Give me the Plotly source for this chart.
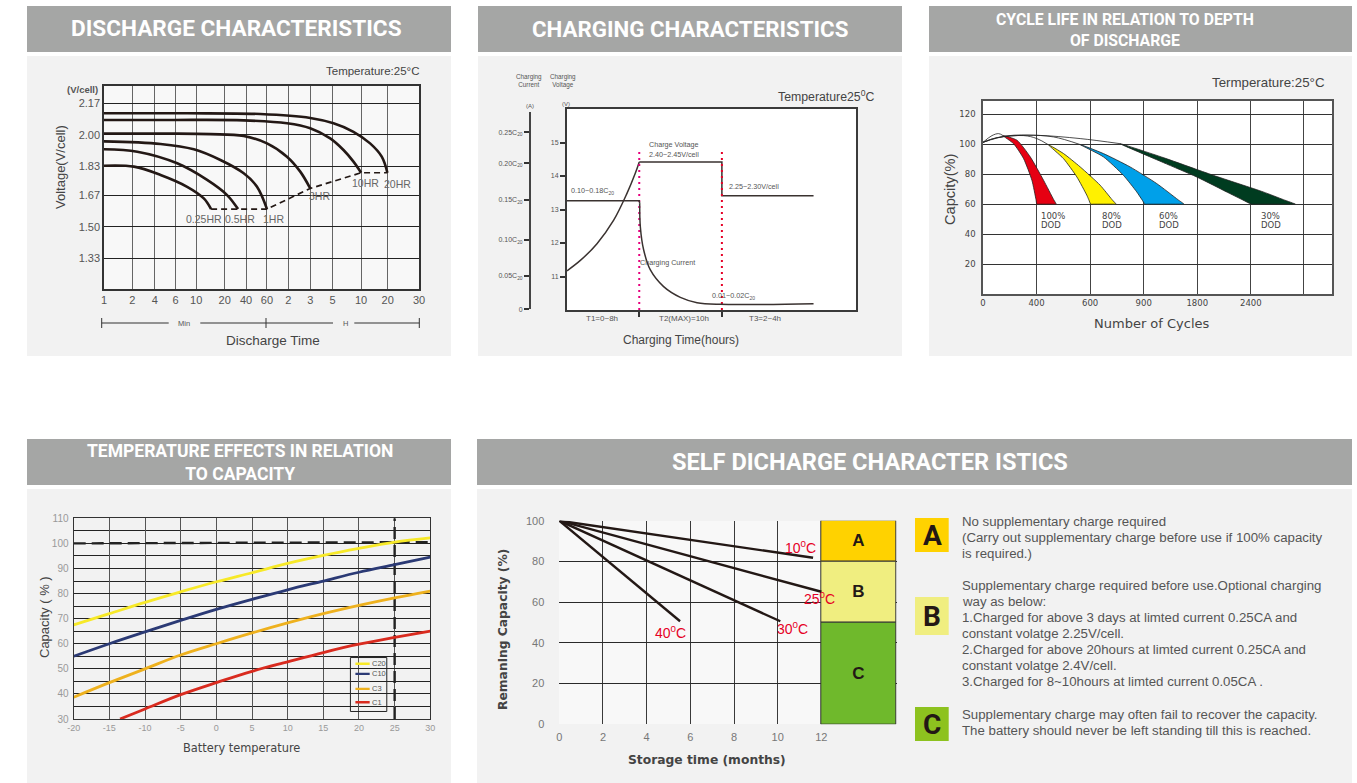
import plotly.graph_objects as go

W, H = 1357, 783
INK = "#231815"
TXT = "#555555"
SANS = "Liberation Sans, Arial, sans-serif"
WIDE = "DejaVu Sans, sans-serif"
HEAD = "Roboto, sans-serif"

# ---------- Discharge characteristics ----------
DIS_TICK_POS = [0, 85, 153, 215, 277, 363, 427, 490, 554, 620, 687, 773, 853, 947]
DIS_TICK_LABELS = ["1", "2", "4", "6", "10", "20", "40", "60", "2", "3", "5", "10", "20", "30"]
DIS_Y_TICKS = [2.17, 2.00, 1.83, 1.67, 1.50, 1.33]
DIS_20HR_X = [0, 250, 470, 620, 690, 750, 800, 835, 852]
DIS_20HR_Y = [2.116, 2.116, 2.112, 2.091, 2.062, 2.016, 1.953, 1.881, 1.794]
DIS_10HR_X = [0, 200, 420, 550, 620, 680, 720, 750, 773]
DIS_10HR_Y = [2.080, 2.080, 2.078, 2.062, 2.035, 1.980, 1.917, 1.854, 1.794]
DIS_3HR_X = [0, 200, 320, 420, 490, 550, 590, 620]
DIS_3HR_Y = [2.006, 2.006, 2.003, 1.993, 1.953, 1.881, 1.800, 1.709]
DIS_1HR_X = [0, 170, 270, 350, 420, 460, 490]
DIS_1HR_Y = [1.964, 1.950, 1.921, 1.863, 1.791, 1.718, 1.597]
DIS_05HR_X = [0, 100, 220, 310, 370, 403]
DIS_05HR_Y = [1.921, 1.908, 1.845, 1.755, 1.673, 1.597]
DIS_025HR_X = [0, 90, 170, 250, 300, 322]
DIS_025HR_Y = [1.832, 1.827, 1.782, 1.718, 1.655, 1.597]
DIS_END_X = [322, 403, 490, 620, 773, 852]
DIS_END_Y = [1.597, 1.597, 1.597, 1.709, 1.794, 1.794]
DIS_LABELS = ["0.25HR", "0.5HR", "1HR", "3HR", "10HR", "20HR"]
DIS_LABEL_X = [300, 408, 510, 648, 785, 882]
DIS_LABEL_Y = [1.543, 1.543, 1.543, 1.668, 1.737, 1.733]

# ---------- Charging characteristics ----------
CHG_HOURS_BOUNDS = [8, 17.15]
CHG_V_RISE_X = [0, 1.48, 3.32, 5.17, 6.64, 7.56, 8]
CHG_V_RISE_Y = [11.17, 11.48, 11.98, 12.68, 13.48, 14.08, 14.42]
CHG_V_HOLD_X = [8, 17.15, 17.15, 27.3]
CHG_V_HOLD_Y = [14.42, 14.42, 13.41, 13.41]
CHG_I_HOLD_X = [0, 8, 8.05]
CHG_I_HOLD_Y = [0.1532, 0.1532, 0.1494]
CHG_I_FALL_X = [8.05, 8.12, 8.49, 9.23, 10.7, 12.55, 14.4, 16.97, 27.3]
CHG_I_FALL_Y = [0.1494, 0.1165, 0.0836, 0.0555, 0.032, 0.0169, 0.0094, 0.007, 0.008]
CHG_V_TICKS = [11, 12, 13, 14, 15]
CHG_I_TICK_POS = [0, 0.0475, 0.0977, 0.1541, 0.2058, 0.25]
CHG_I_TICK_LABELS = ["0", "0.05C<sub>20</sub>", "0.10C<sub>20</sub>", "0.15C<sub>20</sub>", "0.20C<sub>20</sub>", "0.25C<sub>20</sub>"]
CHG_PHASES = ["T1=0~8h", "T2(MAX)=10h", "T3=2~4h"]
CHG_PHASE_X = [3.9, 12.9, 21.9]

# ---------- Cycle life ----------
CYC_TICK_POS = [0, 1, 2, 3, 4, 5, 5.975]
CYC_TICK_LABELS = ["0", "400", "600", "900", "1800", "2400", ""]
CYC_Y_TICKS = [20, 40, 60, 80, 100, 120]
RED_X = [0.373, 0.571, 0.758, 0.913, 0.99, 1.006, 1.05, 1.32, 1.366, 1.32, 1.13, 0.882, 0.634, 0.373]
RED_Y = [105.8, 100.4, 90.4, 76, 63, 60, 60, 60, 60, 63, 76, 91.6, 102.7, 105.8]
YEL_X = [1.224, 1.503, 1.752, 1.938, 1.975, 2.012, 2.06, 2.44, 2.484, 2.41, 2.186, 1.814, 1.503, 1.224]
YEL_Y = [99.6, 90.4, 78.2, 66, 63, 60, 60, 60, 60, 63, 72.7, 84.9, 93.8, 99.6]
BLU_X = [1.814, 2.248, 2.621, 2.87, 2.968, 3.025, 3.07, 3.71, 3.752, 3.64, 3.242, 2.745, 2.248, 1.814]
BLU_Y = [99.8, 91.6, 79.3, 68.2, 63, 60, 60, 60, 60, 63, 73.8, 84.9, 93.8, 99.8]
GRN_X = [2.559, 3.366, 3.988, 4.609, 4.84, 5.012, 5.06, 5.79, 5.832, 5.61, 5.23, 4.298, 3.366, 2.559]
GRN_Y = [100.4, 87.8, 78.2, 67.1, 63, 60, 60, 60, 60, 63, 68.2, 79.3, 91.1, 100.4]
ARC_100_X = [0, 0.168, 0.292, 0.373]
ARC_100_Y = [101.3, 105.8, 107.1, 105.8]
ARC_80_X = [0, 0.261, 0.758, 1.006, 1.224]
ARC_80_Y = [101.3, 104.4, 105.8, 103.8, 99.6]
ARC_60_X = [0, 0.261, 0.82, 1.317, 1.814]
ARC_60_Y = [101.3, 104.4, 106, 104.9, 99.8]
ARC_30_X = [0, 0.447, 1.006, 1.814, 2.559]
ARC_30_Y = [101.3, 105.6, 106, 103.8, 100.4]

# ---------- Temperature effects ----------
TEMP_X = [-20, -15, -10, -5, 0, 5, 10, 15, 20, 25, 30]
TEMP_LABELS = ["-20", "-15", "-10", "-5", "0", "5", "10", "15", "20", "25", "30"]
C20 = [67.5, 72, 76.5, 80.7, 84.7, 88.3, 92, 95.2, 98, 100.5, 102.2]
C10 = [55, 60, 64.7, 69.3, 73.7, 77.7, 81.5, 85, 88.5, 91.5, 94.5]
C3 = [38.7, 44.5, 50, 55.5, 60, 64.3, 68.3, 72, 75.3, 78.3, 81]
C1_X = [-13.5, -10, -5, 0, 5, 10, 15, 20, 25, 30]
C1 = [30, 34, 39.7, 44.5, 49, 52.8, 56.5, 59.8, 62.5, 65]
REF_CAPACITY_X = [-20, 30]
REF_CAPACITY_Y = [100, 100.5]
REF_TEMP_X = [25, 25]
REF_TEMP_Y = [30, 110]
LEG_NAMES = ["C20", "C10", "C3", "C1"]
LEG_Y = [52, 48, 42, 36.7]
LEG_COLORS = ["#f7e928", "#2b3a75", "#eeb11e", "#d92b1f"]

# ---------- Self discharge ----------
SD_10_X, SD_10_Y = [0, 11.62], [100, 81.8]
SD_25_X, SD_25_Y = [0, 12], [100, 65.1]
SD_30_X, SD_30_Y = [0, 10.12], [100, 50.6]
SD_40_X, SD_40_Y = [0, 5.53], [100, 50.6]
SD_TEMP_TEXT = ["10<sup>0</sup>C", "25<sup>0</sup>C", "30<sup>0</sup>C", "40<sup>0</sup>C"]
SD_TEMP_X = [11.03, 11.9, 10.7, 5.1]
SD_TEMP_Y = [87.3, 62, 47.5, 45.5]
ZONE_NAMES = ["A", "B", "C"]
ZONE_BASE = [80, 50, 0]
ZONE_SIZE = [20, 30, 50]
ZONE_COLORS = ["#ffd200", "#f0ee80", "#6fb92c"]
KEY_COLORS = ["#ffd200", "#f0ee80", "#8dc21f"]
KEY_TEXT = [
    ["No supplementary charge required",
     "(Carry out supplementary charge before use if 100% capacity",
     "is required.)"],
    ["Supplementary charge required before use.Optional charging",
     "way as below:",
     "1.Charged for above 3 days at limted current 0.25CA and",
     "constant volatge 2.25V/cell.",
     "2.Charged for above 20hours at limted current 0.25CA and",
     "constant volatge 2.4V/cell.",
     "3.Charged for 8~10hours at limted current 0.05CA ."],
    ["Supplementary charge may often fail to recover the capacity.",
     "The battery should never be left standing till this is reached."],
]

HEADERS = [
    ("DISCHARGE CHARACTERISTICS", 27, 451, 6, 52, 22.6, 236, 29),
    ("CHARGING CHARACTERISTICS", 478, 902, 6, 52, 22.3, 690, 29),
    ("CYCLE LIFE IN RELATION TO DEPTH<br>OF DISCHARGE", 929, 1352, 6, 52, 15.8, 1124.5, 29.5),
    ("TEMPERATURE EFFECTS IN RELATION<br>TO CAPACITY", 27, 451, 439, 485, 17.5, 240, 462),
    ("SELF DICHARGE CHARACTER ISTICS", 477, 1352, 439, 485, 23.6, 870, 462),
]
BODIES = [(27, 451, 56, 356), (478, 902, 56, 356), (929, 1352, 56, 356), (27, 451, 489, 783), (477, 1352, 489, 783)]


def fx(x):
    return x / W


def fy(y):
    return 1 - y / H


def xdom(a, b):
    return [a / W, b / W]


def ydom(top, bottom):
    return [1 - bottom / H, 1 - top / H]


anns, shapes = [], []


def text(x, y, s, size=10, color=TXT, family=SANS, angle=0, xa="center", ya="middle", align="center"):
    anns.append(dict(x=fx(x), y=fy(y), xref="paper", yref="paper", text=s, showarrow=False, textangle=angle,
                     xanchor=xa, yanchor=ya, align=align, font=dict(size=size, color=color, family=family)))


def rect(x0, x1, y0, y1, fill, line=None):
    shapes.append(dict(type="rect", xref="paper", yref="paper", x0=fx(x0), x1=fx(x1), y0=fy(y0), y1=fy(y1),
                       fillcolor=fill, line=dict(width=0 if line is None else 1, color=line or fill), layer="below"))


def seg(x0, y0, x1, y1, color="#333333", width=1):
    shapes.append(dict(type="line", xref="paper", yref="paper", x0=fx(x0), x1=fx(x1), y0=fy(y0), y1=fy(y1),
                       line=dict(color=color, width=width)))


def dtext(xref, yref, x, y, s, size=9, color=TXT, family=SANS, xa="center", align="center"):
    anns.append(dict(x=x, y=y, xref=xref, yref=yref, text=s, showarrow=False, xanchor=xa, align=align,
                     font=dict(size=size, color=color, family=family)))


for b in BODIES:
    rect(b[0], b[1], b[2], b[3], "#f2f2f2")
for t, x0, x1, y0, y1, sz, cx, cy in HEADERS:
    rect(x0, x1, y0, y1, "#a5a6a5")
    text(cx, cy, "<b>%s</b>" % t, sz, "#ffffff", HEAD)

# plot backgrounds
rect(104, 419, 86, 289, "#f8f8f8")
rect(567, 856, 109, 310, "#ffffff")
rect(983, 1332, 101, 294, "#ffffff")
rect(559, 821, 521, 724, "#f8f8f8")

fig = go.Figure()


def line(x, y, xa, ya, color=INK, width=2.5, dash=None, shape="linear", name=None):
    fig.add_trace(go.Scatter(x=x, y=y, xaxis=xa, yaxis=ya, mode="lines", showlegend=False, name=name,
                             hoverinfo="skip" if name is None else None,
                             line=dict(color=color, width=width, dash=dash, shape=shape, smoothing=1 if shape == "spline" else None)))


# --- chart 1
for xs, ys, nm in [(DIS_20HR_X, DIS_20HR_Y, "20HR"), (DIS_10HR_X, DIS_10HR_Y, "10HR"), (DIS_3HR_X, DIS_3HR_Y, "3HR"),
                   (DIS_1HR_X, DIS_1HR_Y, "1HR"), (DIS_05HR_X, DIS_05HR_Y, "0.5HR"), (DIS_025HR_X, DIS_025HR_Y, "0.25HR")]:
    line(xs, ys, "x", "y", width=2.6, shape="spline", name=nm)
line(DIS_END_X, DIS_END_Y, "x", "y", width=1.7, dash="6px,4px")
for s, x, y in zip(DIS_LABELS, DIS_LABEL_X, DIS_LABEL_Y):
    dtext("x", "y", x, y, s, 10.5, "#666666")

# --- chart 2
line(CHG_V_RISE_X, CHG_V_RISE_Y, "x2", "y2", color="#3a3230", width=1.5, shape="spline", name="Charging voltage")
line(CHG_V_HOLD_X, CHG_V_HOLD_Y, "x2", "y2", color="#3a3230", width=1.5)
line(CHG_I_HOLD_X, CHG_I_HOLD_Y, "x2", "y6", color="#3a3230", width=1.5)
line(CHG_I_FALL_X, CHG_I_FALL_Y, "x2", "y6", color="#3a3230", width=1.5, shape="spline", name="Charging current")
line([8, 8], [10, 14.75], "x2", "y2", color="#e6007e", width=2, dash="2px,4px")
line([17.15, 17.15], [10, 14.75], "x2", "y2", color="#e60026", width=2, dash="2px,4px")
for x, y, s, sz in [(582, 255, "Charge Voltage", 7.2), (582, 285, "2.40~2.45V/cell", 7.2),
                    (336, 392, "0.10~0.18C<sub>20</sub>", 7.2), (822, 378, "2.25~2.30V/cell", 7.2),
                    (562, 608, "Charging Current", 7.2), (760, 708, "0.01~0.02C<sub>20</sub>", 7.2)]:
    text(480 + x / 3, 60 + y / 3, s, sz, "#555555")
for s, x in zip(CHG_PHASES, CHG_PHASE_X):
    anns.append(dict(x=x, y=fy(318), xref="x2", yref="paper", text=s, showarrow=False,
                     font=dict(size=8, color="#555555", family=SANS)))

# --- chart 3
for xs, ys, c in [(RED_X, RED_Y, "#e60012"), (YEL_X, YEL_Y, "#fff100"), (BLU_X, BLU_Y, "#00a0e9"), (GRN_X, GRN_Y, "#003c20")]:
    fig.add_trace(go.Scatter(x=xs, y=ys, xaxis="x3", yaxis="y3", mode="lines", fill="toself", fillcolor=c,
                             line=dict(color="#222222", width=0.8, shape="spline", smoothing=0.6), showlegend=False, hoverinfo="skip"))
for xs, ys in [(ARC_100_X, ARC_100_Y), (ARC_80_X, ARC_80_Y), (ARC_60_X, ARC_60_Y), (ARC_30_X, ARC_30_Y)]:
    line(xs, ys, "x3", "y3", color="#222222", width=0.8, shape="spline")
for x, s in [(333, "100%"), (515, "80%"), (687, "60%"), (994, "30%")]:
    text(928 + x / 3, 60 + 467 / 3, s, 8.5, "#444444", WIDE, xa="left")
    text(928 + x / 3, 60 + 494 / 3, "DOD", 8.5, "#444444", WIDE, xa="left")

# --- chart 4
line(REF_CAPACITY_X, REF_CAPACITY_Y, "x4", "y4", color="#222222", width=2.4, dash="12px,6px")
line(REF_TEMP_X, REF_TEMP_Y, "x4", "y4", color="#222222", width=2.4, dash="12px,6px")
for xs, ys, c, nm in [(TEMP_X, C20, LEG_COLORS[0], "C20"), (TEMP_X, C10, LEG_COLORS[1], "C10"),
                      (TEMP_X, C3, LEG_COLORS[2], "C3"), (C1_X, C1, LEG_COLORS[3], "C1")]:
    line(xs, ys, "x4", "y4", color=c, width=2.8, shape="spline", name=nm)
shapes.append(dict(type="rect", xref="x4", yref="y4", x0=18.8, x1=23.9, y0=33, y1=54.5,
                   line=dict(color="#222222", width=1), fillcolor="rgba(0,0,0,0)"))
for nm, y, c in zip(LEG_NAMES, LEG_Y, LEG_COLORS):
    shapes.append(dict(type="line", xref="x4", yref="y4", x0=19.5, x1=21.5, y0=y, y1=y, line=dict(color=c, width=2.4)))
    dtext("x4", "y4", 21.6, y, nm, 7.5, "#555555", xa="left")

# --- chart 5
for xs, ys, nm in [(SD_10_X, SD_10_Y, "10C"), (SD_25_X, SD_25_Y, "25C"), (SD_30_X, SD_30_Y, "30C"), (SD_40_X, SD_40_Y, "40C")]:
    line(xs, ys, "x5", "y5", width=2.4, name=nm)
for s, x, y in zip(SD_TEMP_TEXT, SD_TEMP_X, SD_TEMP_Y):
    dtext("x5", "y5", x, y, s, 14, "#e60026")
fig.add_trace(go.Bar(x=[13.725] * 3, y=ZONE_SIZE, base=ZONE_BASE, width=3.45, xaxis="x5", yaxis="y5",
                     marker=dict(color=ZONE_COLORS, line=dict(color="#333333", width=1)), text=ZONE_NAMES,
                     texttemplate="<b>%{text}</b>", textposition="inside", insidetextanchor="middle", textangle=0,
                     textfont=dict(size=17, color=INK, family=SANS), showlegend=False, hoverinfo="skip"))

# keys and notes at right
for (y0, y1), c, k in zip([(518, 552), (597, 635), (707, 741)], KEY_COLORS, ZONE_NAMES):
    rect(915, 948.7, y0, y1, c)
    text(932, (y0 + y1) / 2, "<b>%s</b>" % k, 28, INK, HEAD)
for y, lines_ in zip([521, 585, 714], KEY_TEXT):
    for i, t in enumerate(lines_):
        text(960, y + 16 * i, t, 13.25, "#555555", xa="left")

# --- page level texts
text(372, 71, "Temperature:25°C", 11.5, "#444444")
seg(101.7, 323, 168.7, 323); seg(200.3, 323, 333, 323); seg(354.3, 323, 419.3, 323)
for xp in (101.7, 266, 419.3):
    seg(xp, 318, xp, 328)
text(184, 323, "Min", 7.5, "#555555"); text(345.7, 323, "H", 7.5, "#555555")
text(273, 340, "Discharge Time", 13.5, "#444444")
text(60, 167, "Voltage(V/cell)", 13, "#444444", angle=-90)
text(82, 89, "<b>(V/cell)</b>", 9.5, "#555555")

text(826, 96, "Temperature25<sup>0</sup>C", 12.3, "#444444")
text(529, 81, "Charging<br>Current", 6.3, "#555555")
text(563, 81, "Charging<br>Voltage", 6.3, "#555555")
text(530, 106, "(A)", 6, "#555555")
text(566, 104, "(V)", 6, "#555555")
text(681, 340, "Charging Time(hours)", 12, "#444444")

text(1268, 83, "Termperature:25°C", 13.3, "#444444")
text(950, 190, "Capcity(%)", 14.6, "#444444", angle=-90)
text(1152, 324, "Number of Cycles", 13, "#444444", WIDE)

text(44, 617, "Capacity ( % )", 13, "#444444", angle=-90)
text(241, 748, "Battery temperature", 11.4, "#444444", WIDE)

text(503, 630, "<b>Remaning Capacity (%)</b>", 12.3, "#444444", WIDE, angle=-90)
text(707, 760, "<b>Storage time (months)</b>", 12.3, "#444444", WIDE)

fig.update_layout(
    width=W, height=H, autosize=False, margin=dict(l=0, r=0, t=0, b=0), paper_bgcolor="#ffffff", plot_bgcolor="rgba(0,0,0,0)",
    showlegend=False, bargap=0, annotations=anns, shapes=shapes, font=dict(family=SANS),
    xaxis=dict(domain=xdom(104, 419), range=[0, 947], tickmode="array", tickvals=DIS_TICK_POS, ticktext=DIS_TICK_LABELS,
               showgrid=True, gridcolor="#666666", gridwidth=1.4, showline=True, linecolor="#333333", linewidth=1.5, mirror=True,
               zeroline=False, tickfont=dict(size=11, color="#555555", family=SANS), anchor="y"),
    yaxis=dict(domain=ydom(86, 289), range=[1.164, 2.264], tickmode="array", tickvals=DIS_Y_TICKS,
               ticktext=["%.2f" % v for v in DIS_Y_TICKS], showgrid=True, gridcolor="#222222", gridwidth=1,
               showline=True, linecolor="#333333", linewidth=1.5, mirror=True, zeroline=False,
               tickfont=dict(size=11, color="#555555", family=SANS), anchor="x"),
    xaxis2=dict(domain=xdom(567, 856), range=[0, 32], tickmode="array", tickvals=CHG_HOURS_BOUNDS, ticktext=["", ""],
                ticks="outside", ticklen=5, tickwidth=2, tickcolor="#333333", showgrid=False, zeroline=False,
                showline=True, linecolor="#3a3a3a", linewidth=2, mirror=True, anchor="y2"),
    yaxis2=dict(domain=ydom(109, 310), range=[10, 16], tickmode="array", tickvals=CHG_V_TICKS, ticks="outside", ticklen=5,
                tickwidth=1.5, tickcolor="#333333", showgrid=False, zeroline=False, showline=True, linecolor="#3a3a3a",
                linewidth=2, mirror=True, tickfont=dict(size=7, color="#555555", family=SANS), anchor="x2"),
    yaxis6=dict(domain=ydom(111.7, 309.3), range=[0, 0.2787], tickmode="array", tickvals=CHG_I_TICK_POS,
                ticktext=CHG_I_TICK_LABELS, ticks="outside", ticklen=5, tickwidth=1.5, tickcolor="#333333", showgrid=False,
                zeroline=False, showline=True, linecolor="#444444", linewidth=2, anchor="free", position=530 / W,
                tickfont=dict(size=7, color="#555555", family=SANS)),
    xaxis3=dict(domain=xdom(983, 1332), range=[0, 6.516], tickmode="array", tickvals=CYC_TICK_POS, ticktext=CYC_TICK_LABELS,
                showgrid=True, gridcolor="#444444", gridwidth=1.2, showline=True, linecolor="#555555", linewidth=1.5, mirror=True,
                zeroline=False, tickfont=dict(size=8.5, color="#444444", family=WIDE), anchor="y3"),
    yaxis3=dict(domain=ydom(101, 294), range=[0, 128.9], tickmode="array", tickvals=CYC_Y_TICKS, showgrid=True,
                gridcolor="#333333", gridwidth=1.2, showline=True, linecolor="#555555", linewidth=1.5, mirror=True,
                zeroline=False, ticklabelstandoff=4, tickfont=dict(size=8.5, color="#444444", family=WIDE), anchor="x3"),
    xaxis4=dict(domain=xdom(73.7, 430.3), range=[-20, 30], tickmode="array", tickvals=TEMP_X, ticktext=TEMP_LABELS, showgrid=True,
                gridcolor="#555555", gridwidth=1.3, showline=True, linecolor="#333333", linewidth=1.3, mirror=True, zeroline=False,
                tickfont=dict(size=9, color="#999999", family=SANS), anchor="y4"),
    yaxis4=dict(domain=ydom(518.3, 719), range=[30, 110], dtick=10, tick0=30, showgrid=True, gridcolor="#222222", gridwidth=1,
                minor=dict(dtick=5, showgrid=True, gridcolor="#222222", gridwidth=1), showline=True, linecolor="#333333",
                linewidth=1.3, mirror=True, zeroline=False, ticklabelstandoff=2,
                tickfont=dict(size=10, color="#999999", family=SANS), anchor="x4"),
    xaxis5=dict(domain=xdom(559.3, 896.7), range=[0, 15.45], tickmode="array", tickvals=list(range(0, 13, 2)), showgrid=True,
                gridcolor="#3a3a3a", gridwidth=1.4, showline=False, zeroline=False, ticklabelstandoff=5,
                tickfont=dict(size=11, color="#777777", family=SANS), anchor="y5"),
    yaxis5=dict(domain=ydom(520.7, 724.3), range=[0, 100], tickmode="array", tickvals=list(range(0, 101, 20)), showgrid=True,
                gridcolor="#2a2a2a", gridwidth=1.2, showline=False, zeroline=False, ticklabelstandoff=14,
                tickfont=dict(size=11, color="#777777", family=SANS), anchor="x5"),
)
fig.update_xaxes(automargin=False)
fig.update_yaxes(automargin=False)
fig.write_html("out.html", config={"responsive": False, "displayModeBar": False},
               default_width="1357px", default_height="783px",
               post_script="document.body.style.margin='0';document.body.style.overflow='hidden';")
